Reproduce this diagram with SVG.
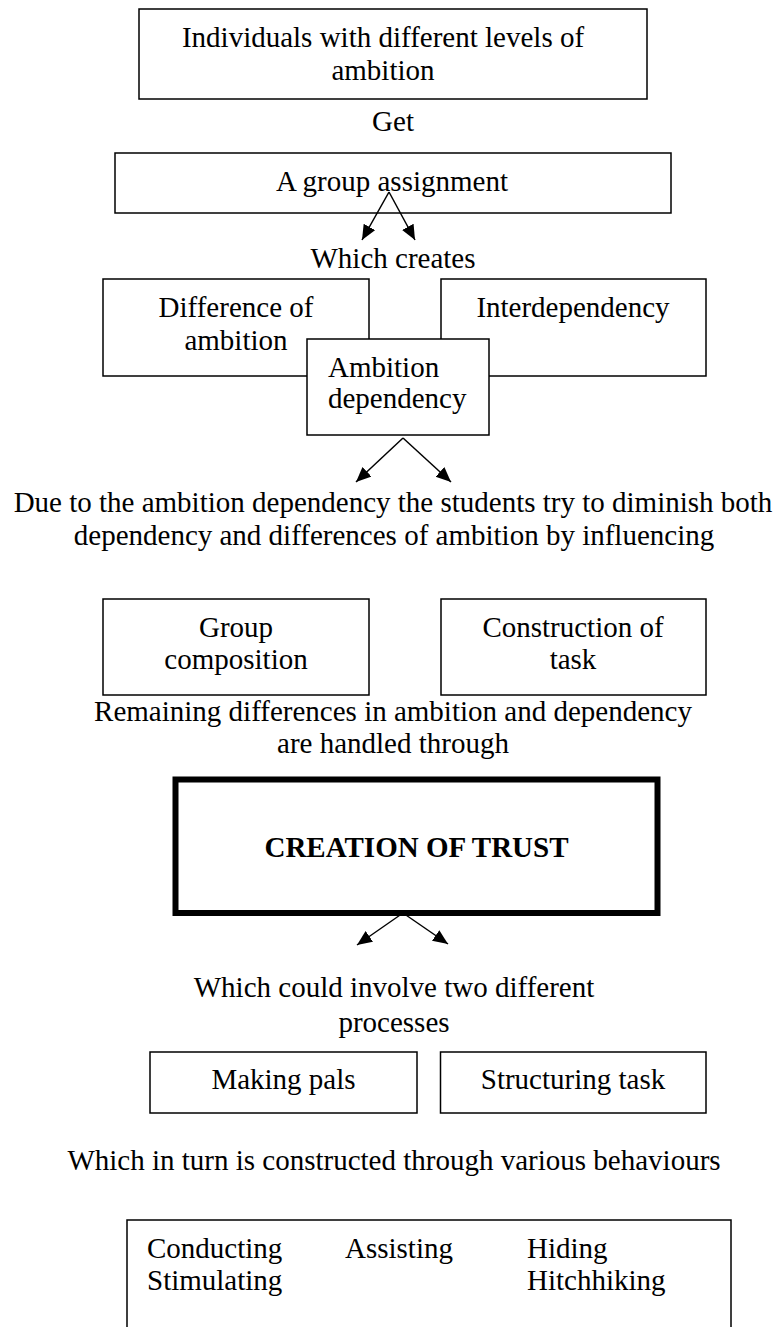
<svg xmlns="http://www.w3.org/2000/svg" width="780" height="1327" viewBox="0 0 780 1327">
<style>
text{font-family:"Liberation Serif","Times New Roman",serif;font-size:29px;fill:#000}
.c{text-anchor:middle}
.b{fill:#fff;stroke:#000;stroke-width:1.5}
.t{fill:#fff;stroke:#000;stroke-width:6}
.ln{stroke:#000;stroke-width:1.5;fill:none;marker-end:url(#ah)}
.bold{font-weight:bold}
</style>
<defs>
<marker id="ah" markerUnits="userSpaceOnUse" markerWidth="16" markerHeight="14" refX="15" refY="6.5" orient="auto">
<path d="M0,0 L15,6.5 L0,13 Z" fill="#000"/>
</marker>
</defs>
<rect width="780" height="1327" fill="#fff"/>
<g id="n-individuals">
<rect class="b" x="139" y="9" width="508" height="90"/>
<text class="c" x="383" y="47">Individuals with different levels of</text>
<text class="c" x="383" y="80">ambition</text>
</g>
<g id="l-get"><text class="c" x="393" y="131">Get</text></g>
<g id="n-group-assignment">
<rect class="b" x="115" y="153" width="556" height="60"/>
<text class="c" x="392" y="191">A group assignment</text>
</g>
<g id="l-which-creates"><text class="c" x="393" y="268">Which creates</text></g>
<g id="n-difference">
<rect class="b" x="103" y="279" width="266" height="97"/>
<text class="c" x="236" y="317">Difference of</text>
<text class="c" x="236" y="350">ambition</text>
</g>
<g id="n-interdependency">
<rect class="b" x="441" y="279" width="265" height="97"/>
<text class="c" x="573" y="317">Interdependency</text>
</g>
<g id="n-ambition-dependency">
<rect class="b" x="307" y="339" width="182" height="96"/>
<text x="328" y="377">Ambition</text>
<text x="328" y="408">dependency</text>
</g>
<g id="l-due">
<text class="c" x="393" y="512">Due to the ambition dependency the students try to diminish both</text>
<text class="c" x="394" y="545">dependency and differences of ambition by influencing</text>
</g>
<g id="n-group-composition">
<rect class="b" x="103" y="599" width="266" height="96"/>
<text class="c" x="236" y="637">Group</text>
<text class="c" x="236" y="669">composition</text>
</g>
<g id="n-construction">
<rect class="b" x="441" y="599" width="265" height="96"/>
<text class="c" x="573" y="637">Construction of</text>
<text class="c" x="573" y="669">task</text>
</g>
<g id="l-remaining">
<text class="c" x="393" y="721">Remaining differences in ambition and dependency</text>
<text class="c" x="393" y="753">are handled through</text>
</g>
<g id="n-trust">
<rect class="t" x="175.5" y="779.5" width="482" height="133.5"/>
<text class="c bold" x="416.5" y="857">CREATION OF TRUST</text>
</g>
<g id="l-which-could">
<text class="c" x="394" y="997">Which could involve two different</text>
<text class="c" x="394" y="1032">processes</text>
</g>
<g id="n-making-pals">
<rect class="b" x="150" y="1052" width="267" height="61"/>
<text class="c" x="283.5" y="1089">Making pals</text>
</g>
<g id="n-structuring">
<rect class="b" x="440.5" y="1052" width="265.5" height="61"/>
<text class="c" x="573" y="1089">Structuring task</text>
</g>
<g id="l-which-in-turn">
<text class="c" x="394" y="1170">Which in turn is constructed through various behaviours</text>
</g>
<g id="n-behaviours">
<rect class="b" x="127" y="1220" width="604" height="140"/>
<text x="147" y="1258">Conducting</text>
<text x="147" y="1290">Stimulating</text>
<text x="345" y="1258">Assisting</text>
<text x="527" y="1258">Hiding</text>
<text x="527" y="1290">Hitchhiking</text>
</g>
<g id="connectors">
<line class="ln" x1="389" y1="192" x2="362" y2="240"/>
<line class="ln" x1="389" y1="192" x2="415" y2="240"/>
<line class="ln" x1="403" y1="438" x2="356" y2="482"/>
<line class="ln" x1="403" y1="438" x2="451" y2="482"/>
<line class="ln" x1="403" y1="913" x2="357" y2="945"/>
<line class="ln" x1="403" y1="913" x2="448" y2="944"/>
</g>
</svg>
